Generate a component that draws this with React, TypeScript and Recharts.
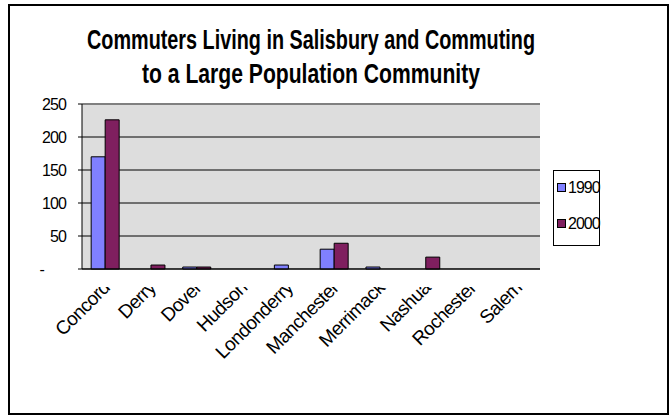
import { BarChart, Bar, XAxis, YAxis, CartesianGrid, ReferenceLine } from "recharts";

const towns = ["Concord", "Derry", "Dover", "Hudson", "Londonderry", "Manchester", "Merrimack", "Nashua", "Rochester", "Salem"];
const commuters1990 = [170, 0, 3, 0, 6, 30, 3, 0, 0, 0];
const commuters2000 = [226, 6, 3, 0, 0, 39, 0, 18, 0, 0];
const yTicks = [0, 50, 100, 150, 200, 250];
const seriesNames = ["1990", "2000"];
const seriesColors = ["#8080FF", "#7F1F5F"];
const titleLines = ["Commuters Living in Salisbury and Commuting", "to a Large Population Community"];
// category boundaries for the tick marks under the x axis
const edgeTicks = towns.map((_, i) => i).concat(towns.length);

const data = towns.map((town, i) => ({ town, y1990: commuters1990[i], y2000: commuters2000[i] }));

const FONT = "'Liberation Sans', Arial, sans-serif";

const YTick = ({ x, y, payload }: any) => (
  <text x={payload.value === 0 ? x - 32 : x - 10} y={y} dy="0.36em" textAnchor="end" fontSize={16} fontFamily={FONT} fill="#000" letterSpacing={-0.9}>
    {payload.value === 0 ? "-" : payload.value}
  </text>
);

// rotated labels, their ends cut off along a line just under the axis
const XTick = ({ x, y, payload }: any) => {
  const ex = x + 6;
  const ey = y + 12;
  return (
    <g clipPath="url(#labelClip)">
      <text x={ex} y={ey} textAnchor="end" fontSize={19} fontFamily={FONT} fill="#000" letterSpacing={-0.6} transform={`rotate(-45 ${ex} ${ey})`}>
        {payload.value}
      </text>
    </g>
  );
};

export default function App() {
  return (
    <div style={{ position: "absolute", left: 0, top: 0, width: 672, height: 420, overflow: "hidden", background: "#fff" }}>
      <div style={{ position: "absolute", left: 8, top: 4, width: 657, height: 407, border: "2px solid #000" }} />
      <svg width={672} height={120} style={{ position: "absolute", left: 0, top: 0 }}>
        <text x={311} y={49} textAnchor="middle" fontSize={27} fontWeight="bold" fontFamily={FONT} textLength={448} lengthAdjust="spacingAndGlyphs">
          {titleLines[0]}
        </text>
        <text x={311} y={83} textAnchor="middle" fontSize={27} fontWeight="bold" fontFamily={FONT} textLength={338} lengthAdjust="spacingAndGlyphs">
          {titleLines[1]}
        </text>
      </svg>
      <div style={{ position: "absolute", left: 0, top: 0 }}>
        <BarChart width={672} height={420} data={data} margin={{ top: 104, right: 132, bottom: 91, left: 32 }} barCategoryGap="20%" barGap={0} accessibilityLayer={false}>
          <defs>
            <clipPath id="labelClip">
              <rect x={0} y={287} width={672} height={133} />
            </clipPath>
          </defs>
          <CartesianGrid vertical={false} stroke="#000" fill="#DDDDDD" fillOpacity={1} />
          <XAxis xAxisId="edges" type="number" domain={[0, towns.length]} ticks={edgeTicks} tick={false} tickLine={{ stroke: "#000" }} tickSize={5} axisLine={false} height={0} allowDataOverflow />
          <XAxis xAxisId="cat" dataKey="town" interval={0} tickLine={false} axisLine={{ stroke: "#000" }} tick={<XTick />} height={60} />
          <YAxis domain={[0, 250]} ticks={yTicks} interval={0} width={50} tickSize={4} tickLine={{ stroke: "#000" }} axisLine={{ stroke: "#000" }} tick={<YTick />} />
          <ReferenceLine y={250} stroke="#808080" strokeWidth={2} />
          <ReferenceLine xAxisId="edges" x={towns.length} stroke="#808080" strokeWidth={2} />
          <Bar xAxisId="cat" dataKey="y1990" name={seriesNames[0]} fill={seriesColors[0]} stroke="#000" strokeWidth={1} isAnimationActive={false} />
          <Bar xAxisId="cat" dataKey="y2000" name={seriesNames[1]} fill={seriesColors[1]} stroke="#000" strokeWidth={1} isAnimationActive={false} />
        </BarChart>
      </div>
      <div style={{ position: "absolute", left: 553, top: 170, width: 47, height: 76, border: "1px solid #000", boxSizing: "border-box", fontFamily: FONT, fontSize: 16, letterSpacing: -1 }}>
        {seriesNames.map((name, i) => (
          <div key={name} style={{ position: "absolute", left: 3, top: 8 + i * 36, display: "flex", alignItems: "center", lineHeight: "17px" }}>
            <span style={{ width: 7, height: 7, background: seriesColors[i], border: "1px solid #000", marginRight: 2 }} />
            <span>{name}</span>
          </div>
        ))}
      </div>
    </div>
  );
}
